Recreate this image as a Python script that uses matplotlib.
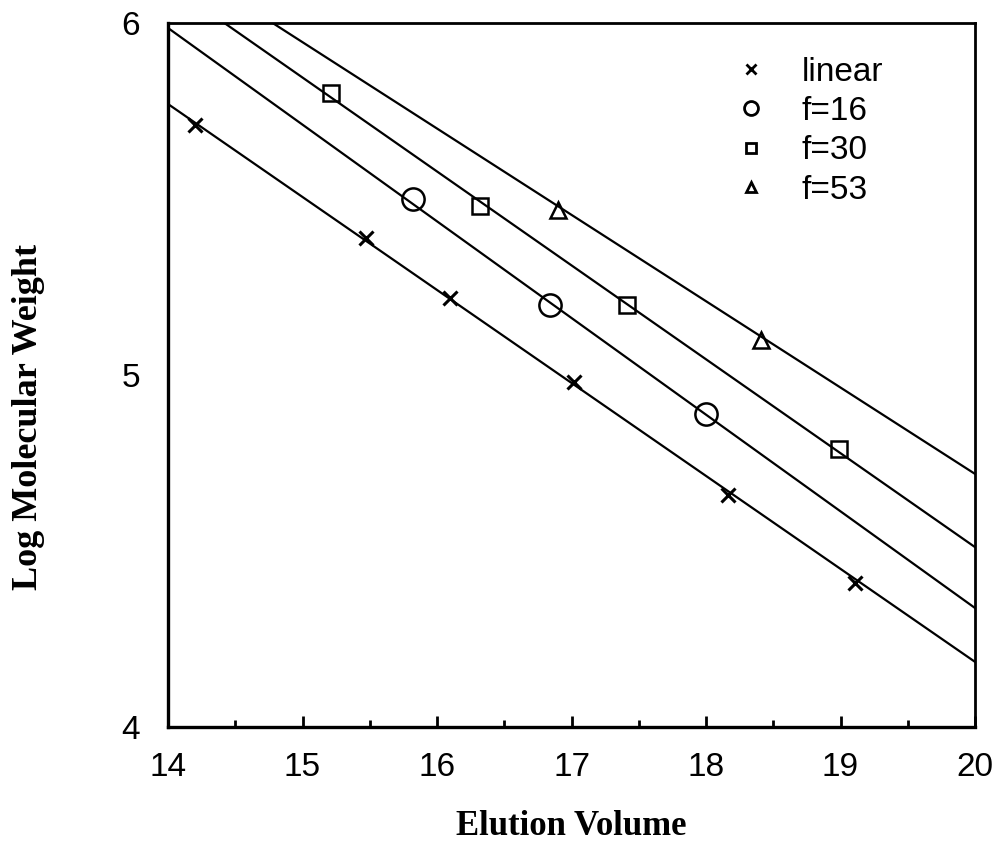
import matplotlib
matplotlib.use("Agg")
import matplotlib.pyplot as plt
from matplotlib.ticker import MultipleLocator

# Calibration points: elution volume vs log molecular weight
linear_x = [14.20, 15.47, 16.10, 17.02, 18.16, 19.11]
linear_y = [5.71, 5.39, 5.22, 4.98, 4.66, 4.41]

f16_x = [15.82, 16.84, 18.00]
f16_y = [5.50, 5.20, 4.89]

f30_x = [15.21, 16.32, 17.41, 18.99]
f30_y = [5.80, 5.48, 5.20, 4.79]

f53_x = [16.90, 18.41]
f53_y = [5.47, 5.10]

# fitted calibration lines, evaluated at the ends of the x range
fit_x = [14, 20]
fit_linear = [5.77, 4.185]
fit_f16 = [5.986, 4.338]
fit_f30 = [6.112, 4.511]
fit_f53 = [6.191, 4.719]

labels = ["linear", "f=16", "f=30", "f=53"]

sans = ["Liberation Sans", "DejaVu Sans"]
serif = ["Liberation Serif", "DejaVu Serif"]

fig = plt.figure(figsize=(9.97, 8.44), dpi=100)
ax = fig.add_axes([0.1685, 0.1386, 0.8095, 0.8341])

for fy in [fit_linear, fit_f16, fit_f30, fit_f53]:
    ax.plot(fit_x, fy, color="black", lw=1.6, zorder=2)

kw = dict(linestyle="none", color="black", zorder=3)
ax.plot(linear_x, linear_y, marker="x", ms=10, mew=2.2, **kw)
ax.plot(f16_x, f16_y, marker="o", ms=16, mew=1.8, mfc="none", **kw)
ax.plot(f30_x, f30_y, marker="s", ms=11, mew=1.8, mfc="none", **kw)
ax.plot(f53_x, f53_y, marker="^", ms=11, mew=1.8, mfc="none", **kw)

ax.set_xlim(14, 20)
ax.set_ylim(4, 6)
ax.xaxis.set_major_locator(MultipleLocator(1))
ax.xaxis.set_minor_locator(MultipleLocator(0.5))
ax.yaxis.set_major_locator(MultipleLocator(1))

ax.tick_params(axis="x", which="major", direction="in", length=8, width=2,
               pad=18, labelsize=24)
ax.tick_params(axis="x", which="minor", direction="in", length=5, width=2)
ax.tick_params(axis="y", which="major", length=0, pad=20, labelsize=24)
for t in ax.get_xticklabels() + ax.get_yticklabels():
    t.set_family(sans)

for s in ["left", "bottom"]:
    ax.spines[s].set_linewidth(2.4)
for s in ["top", "right"]:
    ax.spines[s].set_linewidth(2.0)

ax.set_xlabel("Elution Volume", family=serif, fontweight="bold", fontsize=25)
ax.set_ylabel("Log Molecular Weight", family=serif, fontweight="bold", fontsize=26)
ax.xaxis.set_label_coords(0.5, -0.118)
ax.yaxis.set_label_coords(-0.152, 0.44)

leg_h1 = plt.Line2D([], [], marker="x", ms=7, mew=2, color="black", linestyle="none")
leg_h2 = plt.Line2D([], [], marker="o", ms=10, mew=2, mfc="none", color="black", linestyle="none")
leg_h3 = plt.Line2D([], [], marker="s", ms=7, mew=2, mfc="none", color="black", linestyle="none")
leg_h4 = plt.Line2D([], [], marker="^", ms=7, mew=2, mfc="none", color="black", linestyle="none")
ax.legend([leg_h1, leg_h2, leg_h3, leg_h4], labels, loc="upper left",
          bbox_to_anchor=(0.665, 0.995), frameon=False, handlelength=1.0,
          handletextpad=1.0, labelspacing=0.25,
          prop={"family": sans, "size": 24})

fig.savefig("out.png", dpi=100)
